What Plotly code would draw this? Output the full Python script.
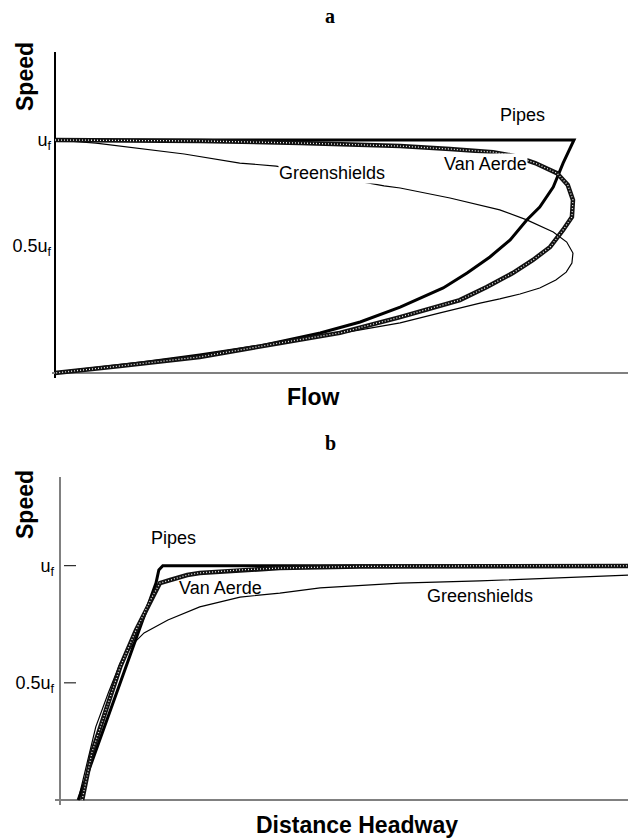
import plotly.graph_objects as go

# ---- Panel a: speed vs flow (normalised: flow / capacity, speed / free speed) ----
pipes_a_flow = [0, 1.0, 0.979, 0.960, 0.934, 0.909, 0.877, 0.838, 0.794, 0.748, 0.665,
                0.588, 0.511, 0.395, 0.279, 0.164, 0]
pipes_a_speed = [1.0, 1.0, 0.901, 0.798, 0.712, 0.657, 0.571, 0.498, 0.429, 0.365, 0.283,
                 0.219, 0.172, 0.116, 0.077, 0.043, 0]

vanaerde_a_flow = [0, 0.279, 0.472, 0.665, 0.761, 0.844, 0.886, 0.925, 0.967, 0.988, 0.998,
                   0.996, 0.979, 0.954, 0.921, 0.882, 0.832, 0.780, 0.665, 0.549, 0.434,
                   0.279, 0.125, 0]
vanaerde_a_speed = [1.0, 0.996, 0.987, 0.974, 0.961, 0.948, 0.931, 0.901, 0.858, 0.807, 0.742,
                    0.670, 0.614, 0.541, 0.485, 0.429, 0.369, 0.313, 0.240, 0.172, 0.129,
                    0.069, 0.030, 0]

greenshields_a_flow = [0, 0.079, 0.249, 0.356, 0.426, 0.530, 0.634, 0.665, 0.761, 0.857,
                       0.909, 0.960, 0.986, 0.998, 0.996, 0.985, 0.965, 0.934, 0.896,
                       0.857, 0.819, 0.742, 0.665, 0.588, 0.511, 0.395, 0.279, 0.125, 0]
greenshields_a_speed = [1.0, 0.987, 0.940, 0.901, 0.888, 0.845, 0.803, 0.794, 0.751, 0.700,
                        0.657, 0.605, 0.562, 0.515, 0.472, 0.433, 0.399, 0.365, 0.339,
                        0.318, 0.300, 0.258, 0.215, 0.185, 0.155, 0.112, 0.073, 0.030, 0]

# ---- Panel b: speed vs distance headway (normalised) ----
pipes_b_headway = [0.032, 0.169, 0.174, 0.181, 1.0]
pipes_b_speed = [0, 0.926, 0.982, 1.0, 1.0]

vanaerde_b_headway = [0.039, 0.056, 0.085, 0.106, 0.134, 0.162, 0.176, 0.194, 0.224, 0.246,
                      0.317, 0.387, 0.528, 0.739, 1.0]
vanaerde_b_speed = [0, 0.201, 0.414, 0.568, 0.726, 0.866, 0.926, 0.939, 0.960, 0.969,
                    0.982, 0.990, 0.997, 0.999, 0.999]

greenshields_b_headway = [0.032, 0.063, 0.085, 0.106, 0.130, 0.148, 0.190, 0.246, 0.317,
                          0.387, 0.458, 0.599, 0.739, 0.880, 1.0]
greenshields_b_speed = [0, 0.312, 0.457, 0.585, 0.670, 0.713, 0.768, 0.824, 0.866,
                        0.883, 0.905, 0.926, 0.935, 0.948, 0.960]

# tick positions and labels
ticks_a = [0.545, 1.0]
ticks_b = [0.5, 1.0]
tick_labels = ["0.5u<sub>f</sub>", "u<sub>f</sub>"]

W, H = 628, 838
FONT = "Liberation Sans, Arial, sans-serif"

fig = go.Figure()


def add_model_lines(x_pipes, y_pipes, x_va, y_va, x_gs, y_gs, xa, ya):
    # Greenshields: thin black line
    fig.add_trace(go.Scatter(x=x_gs, y=y_gs, mode="lines", xaxis=xa, yaxis=ya,
                             line=dict(color="black", width=1.2), showlegend=False))
    # Pipes: heavy black line
    fig.add_trace(go.Scatter(x=x_pipes, y=y_pipes, mode="lines", xaxis=xa, yaxis=ya,
                             line=dict(color="black", width=3), showlegend=False))
    # Van Aerde: thick black band with a fine white stipple, drawn on top
    fig.add_trace(go.Scatter(x=x_va, y=y_va, mode="lines", xaxis=xa, yaxis=ya,
                             line=dict(color="#111111", width=4.5), showlegend=False,
                             hoverinfo="skip"))
    fig.add_trace(go.Scatter(x=x_va, y=y_va, mode="lines", xaxis=xa, yaxis=ya,
                             line=dict(color="#f0f0f0", width=1.3, dash="1px,2px"),
                             showlegend=False, hoverinfo="skip"))


add_model_lines(pipes_a_flow, pipes_a_speed, vanaerde_a_flow, vanaerde_a_speed,
                greenshields_a_flow, greenshields_a_speed, "x", "y")
add_model_lines(pipes_b_headway, pipes_b_speed, vanaerde_b_headway, vanaerde_b_speed,
                greenshields_b_headway, greenshields_b_speed, "x2", "y2")

axis_common = dict(showgrid=False, showline=False, zeroline=True, zerolinewidth=1.5)
tick_font = dict(size=18, family=FONT, color="black")

fig.update_layout(
    width=W, height=H,
    margin=dict(l=0, r=0, t=0, b=0),
    paper_bgcolor="white", plot_bgcolor="white",
    font=dict(family=FONT, color="black"),
    xaxis=dict(domain=[52 / W, 1], range=[-3 / 519, 573 / 519], showticklabels=False,
               ticks="", anchor="y", zerolinecolor="black", **axis_common),
    yaxis=dict(domain=[1 - 378 / H, 1 - 52 / H], range=[-5 / 233, 321 / 233], anchor="x",
               tickvals=ticks_a, ticktext=tick_labels, ticks="",
               tickfont=tick_font, zerolinecolor="#808080", **axis_common),
    xaxis2=dict(domain=[55 / W, 1], range=[-5 / 568, 1.0], showticklabels=False,
                ticks="", anchor="y2", zerolinecolor="#808080", **axis_common),
    yaxis2=dict(domain=[1 - 805 / H, 1 - 477 / H], range=[-5 / 234.3, 323 / 234.3],
                anchor="x2", tickvals=ticks_b, ticktext=tick_labels, ticks="",
                tickfont=tick_font, zerolinecolor="#808080", **axis_common),
)

# short tick dashes to the right of the speed axis in panel b
for v in ticks_b:
    fig.add_shape(type="line", xref="paper", yref="y2", x0=64 / W, x1=76 / W, y0=v, y1=v,
                  line=dict(color="black", width=1))

# curve labels, panel a (white boxes interrupt the lines they sit on)
lab_font = dict(size=18, family=FONT, color="black")
fig.add_annotation(x=0.90, y=1.107, xref="x", yref="y", text="Pipes", showarrow=False,
                   font=lab_font)
fig.add_annotation(x=0.830, y=0.897, xref="x", yref="y", text="Van Aerde", showarrow=False,
                   font=lab_font, bgcolor="white", borderpad=0)
fig.add_annotation(x=0.534, y=0.858, xref="x", yref="y", text="Greenshields",
                   showarrow=False, font=lab_font, bgcolor="white", borderpad=0)

# curve labels, panel b
fig.add_annotation(x=0.20, y=1.118, xref="x2", yref="y2", text="Pipes", showarrow=False,
                   font=lab_font)
fig.add_annotation(x=0.282, y=0.905, xref="x2", yref="y2", text="Van Aerde",
                   showarrow=False, font=lab_font)
fig.add_annotation(x=0.739, y=0.871, xref="x2", yref="y2", text="Greenshields",
                   showarrow=False, font=lab_font)


def paper_text(px, py, text, font, angle=0):
    fig.add_annotation(x=px / W, y=1 - py / H, xref="paper", yref="paper", text=text,
                       xanchor="center", yanchor="middle", textangle=angle,
                       showarrow=False, font=font)


# panel letters
serif = dict(size=20, family="Liberation Serif, Times New Roman, serif", color="black")
paper_text(330, 16, "<b>a</b>", serif)
paper_text(330, 443, "<b>b</b>", serif)

# axis titles
title_font = dict(size=23, family=FONT, color="black")
paper_text(25, 77, "<b>Speed</b>", title_font, -90)
paper_text(25, 505, "<b>Speed</b>", title_font, -90)
paper_text(313, 397, "<b>Flow</b>", title_font)
paper_text(357, 825, "<b>Distance Headway</b>", title_font)

fig.write_html("out.html")
